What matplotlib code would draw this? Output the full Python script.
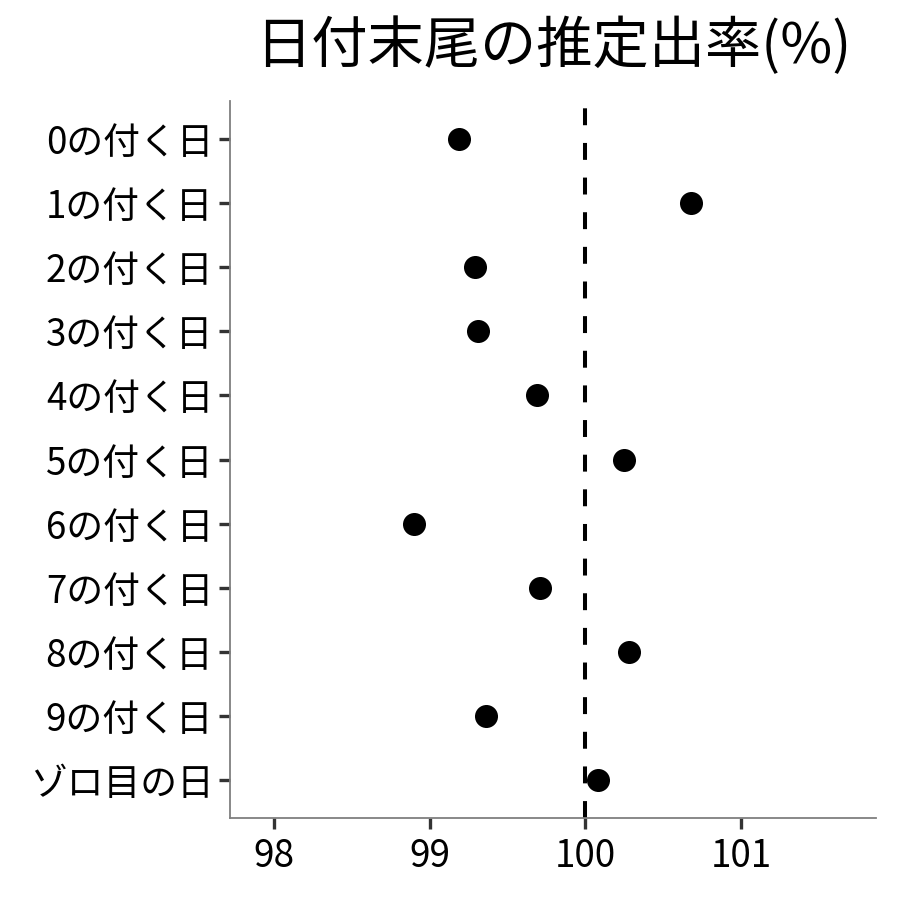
import matplotlib
matplotlib.use("Agg")
import matplotlib.pyplot as plt

plt.rcParams['font.family'] = ['Noto Sans CJK JP', 'DejaVu Sans']

categories = ["0の付く日", "1の付く日", "2の付く日", "3の付く日", "4の付く日",
              "5の付く日", "6の付く日", "7の付く日", "8の付く日", "9の付く日", "ゾロ目の日"]
values = [99.19, 100.68, 99.29, 99.31, 99.69, 100.25, 98.90, 99.71, 100.28, 99.36, 100.08]
xticks = [98, 99, 100, 101]
ref_value = 100
title = "日付末尾の推定出率(%)"

fig = plt.figure(figsize=(9, 9), dpi=100)
ax = fig.add_axes([230/900, 1-818/900, (876-230)/900, (818-101)/900])

n = len(categories)
ypos = list(range(n, 0, -1))
ax.scatter(values, ypos, s=275, color='black', zorder=3, linewidths=0)
ax.axvline(ref_value, color='black', linestyle=(0, (4.2, 4.4)), linewidth=2.9, zorder=2)

ax.set_xlim(97.717, 101.867)
ax.set_ylim(0.4, n + 0.6)
ax.set_yticks(ypos)
ax.set_yticklabels(categories)
ax.set_xticks(xticks)
ax.set_xticklabels([str(t) for t in xticks])

for s in ['top', 'right']:
    ax.spines[s].set_visible(False)
for s in ['left', 'bottom']:
    ax.spines[s].set_color('#7f7f7f')
    ax.spines[s].set_linewidth(1.3)

ax.tick_params(axis='both', colors='#333333', length=8, width=2.4, labelsize=26.5,
               labelcolor='black')
ax.tick_params(axis='y', pad=4)
ax.tick_params(axis='x', pad=6)

fig.text((230+876)/2/900, 1-47/900, title, ha='center', va='center', fontsize=40.5)

fig.savefig("out.png", dpi=100)
